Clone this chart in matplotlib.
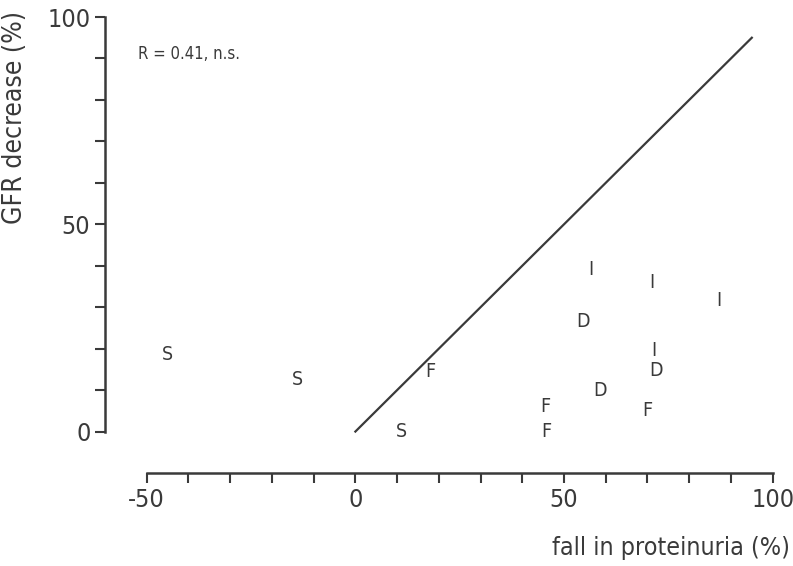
import matplotlib.pyplot as plt
from matplotlib.ticker import FixedLocator

# values
s_x = [-45, -14, 11]
s_y = [18.5, 12.5, 0]
f_x = [18, 45.5, 45.7, 70]
f_y = [14.5, 6, 0, 5]
d_x = [54.5, 58.6, 72]
d_y = [26.5, 10, 14.8]
i_x = [56.5, 71, 87, 71.5]
i_y = [39, 36, 31.5, 19.5]
ident = [0, 95]

plt.rcParams['font.family'] = ['DejaVu Sans']
plt.rcParams['font.stretch'] = 'condensed'
ink = '#3a3a3a'

fig = plt.figure(figsize=(7.93, 5.66), dpi=100)
ax = fig.add_axes([0.1324, 0.1643, 0.8525, 0.8203])

ax.plot(ident, ident, color=ink, lw=1.6)

groups = [('S', s_x, s_y), ('F', f_x, f_y), ('D', d_x, d_y), ('I', i_x, i_y)]
for lab, xs, ys in groups:
    for x, y in zip(xs, ys):
        ax.text(x, y, lab, ha='center', va='center', fontsize=14, color=ink)

ax.text(-52, 91, 'R = 0.41, n.s.', ha='left', va='center', fontsize=12, color=ink)

ax.set_xlim(-60, 102)
ax.set_ylim(-10, 102)

for side in ['top', 'right']:
    ax.spines[side].set_visible(False)
ax.spines['left'].set_bounds(0, 100)
ax.spines['bottom'].set_bounds(-50, 100)
for side in ['left', 'bottom']:
    ax.spines[side].set_linewidth(1.8)
    ax.spines[side].set_color(ink)

ax.xaxis.set_major_locator(FixedLocator([-50, 0, 50, 100]))
ax.xaxis.set_minor_locator(FixedLocator(range(-50, 101, 10)))
ax.yaxis.set_major_locator(FixedLocator([0, 50, 100]))
ax.yaxis.set_minor_locator(FixedLocator(range(0, 101, 10)))
ax.tick_params(which='both', direction='out', color=ink, width=1.5, labelsize=18,
               labelcolor=ink, length=7)
ax.set_xticklabels(['-50', '0', '50', '100'])

fig.text(15 / 793, 1 - 117 / 566, 'GFR decrease (%)', rotation=90, ha='center',
         va='center', fontsize=19, color=ink)
fig.text(790 / 793, 1 - 548 / 566, 'fall in proteinuria (%)', ha='right',
         va='center', fontsize=18, color=ink)

fig.savefig('out.png', dpi=100)
